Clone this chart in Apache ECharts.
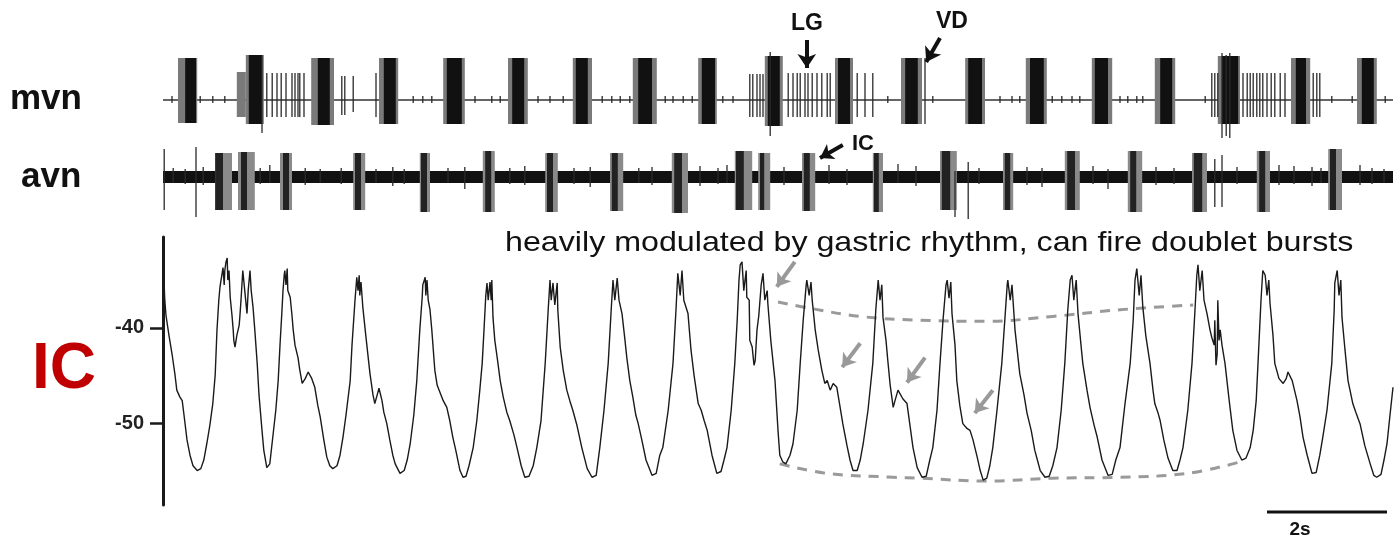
<!DOCTYPE html>
<html>
<head>
<meta charset="utf-8">
<script src="https://cdn.jsdelivr.net/npm/echarts@6/dist/echarts.min.js"></script>
<style>html,body{margin:0;padding:0;background:#fff}#c{width:1400px;height:542px}</style>
</head>
<body>
<div id="c"></div>
<script>
// ---- time axis (s) ----
const timeRange = [0, 20.5];

// ---- mvn (extracellular, arbitrary units) ----
const mvnBaseline = [[0, 0], [20.5, 0]];
// bursts: [outerStart, coreStart, coreEnd, outerEnd, top, bottom]
const mvnBursts = [
  [0.25,0.37,0.55,0.57,42,-23],[1.23,1.23,1.23,1.38,28,-17],[1.38,1.43,1.65,1.68,45,-24],
  [2.47,2.58,2.78,2.85,42,-25],[3.60,3.68,3.88,3.92,42,-24],[4.67,4.73,4.98,5.03,42,-24],
  [5.75,5.82,6.02,6.08,42,-24],[6.83,6.88,7.08,7.15,42,-24],[7.83,7.92,8.15,8.23,42,-24],
  [8.92,8.98,9.20,9.23,42,-24],[10.03,10.08,10.28,10.33,44,-26],[11.20,11.25,11.45,11.50,42,-24],
  [12.30,12.37,12.58,12.65,42,-24],[13.37,13.42,13.65,13.70,42,-24],[14.38,14.45,14.68,14.73,42,-24],
  [15.48,15.53,15.75,15.82,42,-24],[16.53,16.62,16.82,16.87,42,-24],[17.58,17.65,17.92,17.95,44,-24],
  [18.80,18.88,19.05,19.12,42,-24],[19.90,19.98,20.18,20.23,42,-24]
];
// single spikes: [t, top, bottom]
const mvnSpikes = [
  [1.73,27,-17],[1.82,27,-17],[1.90,27,-17],[1.97,27,-17],[2.05,27,-17],[2.15,27,-17],[2.20,27,-17],
  [2.25,27,-17],[2.28,27,-17],[2.35,27,-17],[2.98,24,-15],[3.03,24,-15],[3.17,24,-12],[3.55,27,-17],
  [1.65,45,-33],[10.12,48,-36],[17.65,47,-38],[17.72,45,-36],[17.78,47,-38],[12.70,42,-24],
  [9.78,26,-17],[9.83,26,-17],[9.90,26,-17],[9.95,26,-17],[10.00,26,-17],
  [10.42,27,-17],[10.50,27,-17],[10.57,27,-17],[10.62,27,-17],[10.70,27,-17],[10.75,27,-17],
  [10.82,27,-17],[10.90,27,-17],[10.98,27,-17],[11.07,27,-17],[11.12,27,-17],
  [11.57,27,-17],[11.70,27,-17],[11.83,27,-17],
  [17.48,27,-17],[17.53,27,-17],[17.58,27,-17],[18.00,27,-17],[18.07,27,-17],[18.12,27,-17],
  [18.17,27,-17],[18.23,27,-17],[18.28,27,-17],[18.33,27,-17],[18.40,27,-17],[18.47,27,-17],
  [18.53,27,-17],[18.62,27,-17],[18.70,27,-17],[19.17,27,-17],[19.23,27,-17],[19.28,27,-17],
  [0.15,4,-3],[0.62,4,-3],[0.83,4,-3],[1.03,4,-3],[4.17,4,-3],[4.33,4,-3],[4.48,4,-3],
  [5.20,4,-3],[5.48,4,-3],[5.62,4,-3],[6.25,4,-3],[6.45,4,-3],[6.67,4,-3],[7.32,4,-3],
  [7.48,4,-3],[7.62,4,-3],[7.78,4,-3],[8.37,4,-3],[8.50,4,-3],[8.67,4,-3],[8.82,4,-3],
  [9.33,4,-3],[9.50,4,-3],[12.08,4,-3],[12.83,4,-3],[13.95,4,-3],[14.15,4,-3],[14.28,4,-3],
  [14.82,4,-3],[14.98,4,-3],[15.15,4,-3],[15.28,4,-3],[15.95,4,-3],[16.08,4,-3],[16.23,4,-3],
  [16.33,4,-3],[17.37,4,-3],[19.48,4,-3],[19.82,4,-3],[20.37,4,-3]
];

// ---- avn ----
const avnBaseline = [[0, 0], [20.5, 0]];
const avnBursts = [
  [0.87,0.87,1.00,1.15,24,-33],[1.25,1.30,1.40,1.53,25,-33],[1.95,2.00,2.10,2.15,24,-33],
  [3.17,3.20,3.30,3.37,24,-33],[4.28,4.30,4.40,4.45,24,-35],[5.33,5.37,5.47,5.53,26,-35],
  [6.37,6.40,6.50,6.58,24,-35],[7.45,7.48,7.58,7.67,24,-34],[8.48,8.52,8.65,8.75,24,-36],
  [9.53,9.55,9.68,9.82,26,-33],[9.92,9.95,10.02,10.12,24,-33],[10.65,10.68,10.78,10.87,24,-34],
  [11.83,11.85,11.93,12.00,24,-35],[12.95,12.98,13.12,13.23,26,-33],[14.00,14.03,14.12,14.17,24,-33],
  [15.03,15.07,15.20,15.28,26,-33],[16.08,16.12,16.22,16.32,26,-35],[17.15,17.18,17.32,17.40,24,-35],
  [18.23,18.27,18.37,18.45,26,-35],[19.42,19.45,19.55,19.65,28,-33]
];
const avnSpikes = [
  [0.02,28,-33],[0.55,30,-40],[0.17,9,-6],[0.37,8,-7],[0.67,10,-8],[1.62,9,-7],[1.78,12,-6],
  [2.37,9,-8],[2.62,8,-6],[2.97,9,-7],[3.55,8,-6],[3.83,10,-9],[4.02,8,-7],[4.75,9,-6],
  [5.03,10,-12],[5.78,9,-7],[6.03,11,-8],[6.85,9,-7],[7.12,10,-10],[7.93,9,-6],[8.15,10,-8],
  [8.95,11,-9],[9.25,9,-7],[9.40,12,-6],[10.35,10,-8],[11.10,12,-7],[11.40,8,-8],[12.25,13,-6],
  [12.55,11,-9],[13.20,6,-40],[13.42,15,-42],[13.60,9,-7],[14.40,10,-8],[14.65,9,-10],
  [15.50,11,-7],[15.75,8,-12],[16.55,10,-8],[16.85,9,-7],[17.53,18,-30],[17.65,22,-30],
  [17.90,10,-7],[18.60,12,-8],[18.85,11,-7],[19.15,10,-9],[19.30,9,-6],[19.95,12,-8],
  [20.15,9,-7],[20.35,8,-6]
];

// ---- IC membrane potential (mV) ----
const icTicks = [-40, -50];
const icTrace = [
[0.00,-37.8],[0.01,-34.0],[0.03,-37.1],[0.05,-38.7],[0.10,-40.8],[0.15,-42.7],[0.20,-44.9],[0.23,-46.5],[0.28,-47.2],[0.32,-47.6],[0.35,-49.1],[0.40,-51.7],[0.45,-53.3],[0.50,-54.4],[0.57,-54.9],[0.63,-54.7],[0.68,-53.8],[0.73,-52.1],[0.78,-50.2],[0.83,-47.9],[0.87,-44.9],[0.90,-40.2],[0.93,-37.1],[0.95,-35.7],[0.98,-34.5],[1.00,-33.7],[1.02,-35.5],[1.03,-34.0],[1.05,-33.1],[1.07,-32.7],[1.08,-35.0],[1.10,-34.0],[1.12,-36.8],[1.15,-38.7],[1.17,-40.2],[1.18,-41.3],[1.20,-42.0],[1.23,-40.8],[1.27,-39.7],[1.28,-38.9],[1.30,-37.1],[1.33,-34.0],[1.37,-36.6],[1.40,-38.5],[1.42,-36.1],[1.45,-34.0],[1.47,-36.1],[1.50,-37.8],[1.53,-40.2],[1.57,-43.7],[1.60,-47.0],[1.65,-50.7],[1.68,-52.8],[1.73,-54.6],[1.78,-54.2],[1.83,-51.4],[1.88,-48.6],[1.92,-45.5],[1.95,-41.8],[1.98,-38.5],[2.00,-36.1],[2.02,-34.5],[2.03,-34.0],[2.05,-35.5],[2.07,-33.8],[2.08,-36.1],[2.12,-36.8],[2.15,-38.7],[2.17,-40.2],[2.20,-41.8],[2.25,-43.1],[2.28,-44.4],[2.32,-45.8],[2.37,-45.3],[2.42,-44.6],[2.45,-44.4],[2.48,-45.3],[2.53,-46.2],[2.58,-48.1],[2.62,-49.3],[2.68,-51.7],[2.73,-53.5],[2.78,-54.4],[2.83,-54.7],[2.90,-54.4],[2.95,-53.3],[3.00,-51.4],[3.05,-49.1],[3.12,-45.5],[3.15,-41.8],[3.20,-37.1],[3.22,-35.5],[3.23,-34.7],[3.25,-36.1],[3.27,-34.5],[3.28,-36.6],[3.30,-35.2],[3.33,-37.8],[3.38,-40.8],[3.45,-44.8],[3.50,-47.0],[3.53,-47.9],[3.57,-47.0],[3.60,-46.3],[3.62,-46.2],[3.65,-47.6],[3.68,-48.8],[3.73,-50.0],[3.78,-51.7],[3.83,-53.3],[3.87,-54.2],[3.95,-55.2],[4.02,-54.9],[4.07,-53.8],[4.12,-52.1],[4.18,-49.1],[4.23,-45.5],[4.28,-40.2],[4.32,-36.8],[4.33,-35.5],[4.37,-34.7],[4.38,-36.6],[4.40,-35.0],[4.42,-37.1],[4.45,-38.1],[4.48,-40.2],[4.53,-44.4],[4.57,-46.0],[4.62,-46.8],[4.67,-47.6],[4.70,-47.4],[4.73,-48.3],[4.78,-49.7],[4.83,-51.4],[4.88,-52.8],[4.95,-54.9],[5.00,-55.6],[5.05,-55.5],[5.10,-54.4],[5.17,-52.5],[5.23,-49.7],[5.28,-46.5],[5.32,-43.7],[5.35,-40.2],[5.38,-36.6],[5.40,-35.3],[5.42,-37.1],[5.45,-35.2],[5.47,-37.1],[5.48,-35.0],[5.50,-38.9],[5.53,-41.3],[5.57,-43.1],[5.62,-45.5],[5.67,-47.2],[5.73,-48.8],[5.78,-49.7],[5.85,-51.2],[5.90,-52.5],[5.97,-54.4],[6.03,-55.6],[6.10,-55.5],[6.17,-54.4],[6.23,-52.5],[6.30,-49.7],[6.37,-43.7],[6.42,-38.1],[6.45,-35.0],[6.47,-37.1],[6.50,-35.3],[6.53,-37.6],[6.57,-35.3],[6.58,-38.1],[6.62,-42.0],[6.67,-44.4],[6.73,-46.5],[6.78,-47.6],[6.83,-48.6],[6.90,-50.2],[6.98,-52.5],[7.07,-54.7],[7.15,-55.6],[7.22,-55.4],[7.28,-52.5],[7.35,-48.6],[7.42,-43.7],[7.47,-38.1],[7.50,-35.0],[7.53,-37.1],[7.57,-34.8],[7.60,-37.1],[7.65,-38.5],[7.70,-41.3],[7.73,-43.1],[7.78,-45.5],[7.83,-47.2],[7.88,-49.1],[7.92,-50.0],[7.98,-51.7],[8.05,-53.8],[8.15,-55.4],[8.22,-55.2],[8.28,-53.3],[8.33,-52.5],[8.42,-48.6],[8.50,-43.7],[8.55,-38.1],[8.58,-34.3],[8.62,-36.6],[8.65,-34.0],[8.68,-37.1],[8.75,-38.5],[8.80,-42.3],[8.85,-44.9],[8.92,-47.9],[8.97,-48.6],[9.02,-49.7],[9.07,-50.7],[9.15,-53.3],[9.23,-55.2],[9.30,-55.0],[9.35,-53.8],[9.40,-52.5],[9.47,-48.6],[9.53,-43.7],[9.57,-39.2],[9.60,-35.0],[9.62,-33.4],[9.65,-33.1],[9.68,-36.1],[9.72,-34.0],[9.73,-36.8],[9.77,-37.1],[9.78,-41.3],[9.82,-42.0],[9.85,-43.9],[9.87,-43.4],[9.90,-40.2],[9.93,-38.7],[9.97,-35.5],[10.00,-34.3],[10.03,-37.1],[10.07,-36.1],[10.08,-37.4],[10.13,-41.3],[10.20,-45.5],[10.25,-50.7],[10.28,-53.3],[10.33,-54.0],[10.38,-54.2],[10.45,-53.3],[10.50,-52.1],[10.57,-48.6],[10.62,-43.7],[10.67,-39.2],[10.72,-35.5],[10.73,-35.0],[10.77,-36.6],[10.80,-35.2],[10.82,-37.1],[10.87,-40.2],[10.92,-42.3],[10.98,-44.4],[11.03,-45.8],[11.07,-45.5],[11.12,-46.5],[11.17,-45.8],[11.23,-46.2],[11.28,-48.1],[11.33,-50.0],[11.40,-52.3],[11.45,-53.8],[11.50,-54.9],[11.57,-54.9],[11.62,-53.8],[11.67,-52.1],[11.75,-48.6],[11.83,-43.7],[11.88,-38.1],[11.92,-35.0],[11.95,-37.1],[11.98,-35.5],[12.00,-38.9],[12.05,-41.3],[12.08,-43.4],[12.12,-46.0],[12.17,-48.3],[12.20,-47.6],[12.25,-46.5],[12.28,-46.5],[12.33,-47.4],[12.40,-47.9],[12.45,-50.2],[12.50,-52.5],[12.57,-54.6],[12.65,-55.6],[12.72,-55.5],[12.78,-53.8],[12.83,-52.5],[12.90,-48.6],[12.95,-43.7],[13.00,-39.2],[13.05,-35.5],[13.07,-35.0],[13.10,-36.9],[13.13,-35.2],[13.15,-38.5],[13.20,-41.8],[13.23,-45.5],[13.28,-48.1],[13.33,-50.0],[13.40,-50.5],[13.45,-50.7],[13.50,-51.7],[13.57,-53.5],[13.62,-54.9],[13.67,-55.9],[13.73,-55.7],[13.78,-54.4],[13.83,-52.5],[13.90,-48.6],[13.98,-43.7],[14.03,-39.2],[14.07,-35.5],[14.08,-35.0],[14.12,-37.1],[14.15,-35.5],[14.20,-40.2],[14.28,-44.8],[14.35,-47.0],[14.40,-48.9],[14.47,-50.7],[14.53,-52.8],[14.62,-54.9],[14.70,-55.6],[14.77,-55.5],[14.83,-54.4],[14.90,-52.5],[14.97,-48.6],[15.03,-43.7],[15.08,-38.1],[15.12,-35.0],[15.15,-34.5],[15.18,-37.1],[15.22,-35.0],[15.25,-38.5],[15.30,-41.8],[15.33,-43.7],[15.40,-46.5],[15.45,-48.3],[15.52,-50.2],[15.57,-51.4],[15.65,-53.8],[15.75,-55.4],[15.82,-55.3],[15.88,-53.8],[15.95,-52.5],[16.03,-48.1],[16.12,-43.7],[16.17,-39.2],[16.20,-35.0],[16.23,-33.8],[16.27,-36.6],[16.30,-34.5],[16.33,-37.8],[16.38,-40.8],[16.45,-43.7],[16.50,-46.5],[16.53,-47.9],[16.58,-48.8],[16.62,-49.7],[16.68,-51.7],[16.75,-53.6],[16.83,-54.9],[16.90,-54.9],[16.95,-53.8],[17.00,-52.5],[17.08,-48.6],[17.15,-43.7],[17.20,-38.1],[17.23,-34.5],[17.25,-33.4],[17.28,-36.1],[17.32,-34.0],[17.35,-37.1],[17.40,-38.5],[17.45,-40.2],[17.48,-41.0],[17.52,-41.8],[17.53,-39.2],[17.55,-43.9],[17.57,-42.7],[17.58,-37.1],[17.60,-41.3],[17.62,-40.2],[17.65,-41.8],[17.70,-43.7],[17.77,-47.6],[17.83,-50.7],[17.90,-52.8],[17.98,-53.8],[18.05,-53.6],[18.12,-52.5],[18.17,-50.7],[18.22,-47.6],[18.25,-43.7],[18.30,-37.1],[18.33,-34.0],[18.37,-34.5],[18.40,-36.6],[18.43,-35.0],[18.45,-37.4],[18.50,-40.8],[18.53,-43.7],[18.60,-45.3],[18.67,-45.8],[18.72,-45.3],[18.75,-44.6],[18.78,-44.4],[18.82,-45.5],[18.90,-47.6],[18.95,-49.3],[19.00,-51.4],[19.07,-53.3],[19.15,-55.2],[19.22,-55.1],[19.28,-53.3],[19.33,-51.4],[19.40,-48.6],[19.48,-43.7],[19.52,-38.1],[19.53,-35.3],[19.57,-34.0],[19.60,-36.6],[19.63,-35.0],[19.65,-38.9],[19.70,-42.3],[19.75,-45.5],[19.80,-47.0],[19.83,-47.9],[19.88,-48.8],[19.95,-50.0],[20.03,-52.3],[20.12,-54.2],[20.18,-55.4],[20.23,-55.6],[20.30,-55.3],[20.35,-53.8],[20.40,-52.1],[20.45,-49.1],[20.50,-46.2]
];
// envelope guides (dashed)
const upperEnvelope = [[10.25,-37.3],[10.83,-38.0],[11.62,-38.8],[12.62,-39.2],[13.73,-39.3],[14.83,-38.8],[15.95,-38.1],[17.17,-37.6]];
const lowerEnvelope = [[10.28,-54.2],[11.07,-55.2],[12.17,-55.6],[12.62,-55.7],[13.73,-56.0],[14.83,-55.7],[15.95,-55.6],[17.07,-55.2],[17.95,-54.0]];
// gray arrows [from, to]
const grayArrows = [
  [[10.53,-33.1],[10.23,-35.7]],
  [[11.62,-41.6],[11.32,-44.1]],
  [[12.70,-43.1],[12.40,-45.7]],
  [[13.83,-46.5],[13.53,-48.9]]
];
// annotation arrows
const lgArrow = [[10.73,60],[10.73,32]];
const vdArrow = [[12.95,62],[12.72,38]];
const icArrow = [[11.33,32],[10.95,19]];
// scale bar
const scaleBar = [[18.40,30],[20.40,30]];

const FONT = 'Liberation Sans';
const chart = echarts.init(document.getElementById('c'), null, {renderer:'canvas'});

function spikeRender(color, w){
  return function(params, api){
    const a = api.coord([api.value(0), api.value(1)]);
    const b = api.coord([api.value(0), api.value(2)]);
    return {type:'line', shape:{x1:a[0], y1:a[1], x2:b[0], y2:b[1]}, style:{stroke:color, lineWidth:w}};
  };
}
function burstRender(outer, inner){
  return function(params, api){
    const a = api.coord([api.value(0), api.value(4)]);
    const b = api.coord([api.value(3), api.value(5)]);
    const c = api.coord([api.value(1), api.value(4)]);
    const d = api.coord([api.value(2), api.value(5)]);
    const ch = [{type:'rect', shape:{x:a[0], y:a[1], width:b[0]-a[0], height:b[1]-a[1]}, style:{fill:outer}}];
    if (d[0]-c[0] > 0.5) ch.push({type:'rect', shape:{x:c[0], y:c[1], width:d[0]-c[0], height:d[1]-c[1]}, style:{fill:inner}});
    return {type:'group', children:ch};
  };
}
function arrowLine(pair, color, width, size){
  return [{coord:pair[0], symbol:'none'}, {coord:pair[1], symbol:'arrow', symbolSize:size, lineStyle:{color:color, width:width}}];
}

const L = 163, R = 7;
const xAx = (i)=>({gridIndex:i, type:'value', min:timeRange[0], max:timeRange[1], show:false});

chart.setOption({
  animation:false,
  backgroundColor:'#fff',
  textStyle:{fontFamily:FONT},
  grid:[
    {left:L, right:R, top:0, height:130},
    {left:L, right:R, top:135, height:85},
    {left:L, right:R, top:237, height:268},
    {left:L, right:R, top:500, height:42}
  ],
  xAxis:[xAx(0), xAx(1), xAx(2), xAx(3)],
  yAxis:[
    {gridIndex:0, type:'value', min:-30, max:100, show:false},
    {gridIndex:1, type:'value', min:-43, max:42, show:false},
    {gridIndex:2, type:'value', min:-58.5, max:-30.5, splitLine:{show:false},
     axisLine:{show:true, lineStyle:{color:'#1a1a1a', width:3}},
     axisTick:{show:true, length:13, customValues:icTicks, lineStyle:{color:'#1a1a1a', width:2.5}},
     axisLabel:{show:true, customValues:icTicks, margin:19, color:'#222', fontSize:20, fontWeight:'bold', fontFamily:FONT}},
    {gridIndex:3, type:'value', min:0, max:42, show:false}
  ],
  graphic:[
    {type:'text', x:10, y:99, style:{text:'mvn', fontSize:35, fontWeight:'bold', fontFamily:FONT, fill:'#111', textVerticalAlign:'middle'}},
    {type:'text', x:21, y:177, style:{text:'avn', fontSize:35, fontWeight:'bold', fontFamily:FONT, fill:'#111', textVerticalAlign:'middle'}},
    {type:'text', x:32, y:370, style:{text:'IC', fontSize:64, fontWeight:'bold', fontFamily:FONT, fill:'#c00000', textVerticalAlign:'middle'}},
    {type:'text', x:505, y:243, scaleX:1.15, style:{text:'heavily modulated by gastric rhythm, can fire doublet bursts', fontSize:28, fontFamily:FONT, fill:'#111', textVerticalAlign:'middle'}},
    {type:'text', x:807, y:24, style:{text:'LG', fontSize:23, fontWeight:'bold', fontFamily:FONT, fill:'#111', textAlign:'center', textVerticalAlign:'middle'}},
    {type:'text', x:952, y:22, style:{text:'VD', fontSize:23, fontWeight:'bold', fontFamily:FONT, fill:'#111', textAlign:'center', textVerticalAlign:'middle'}},
    {type:'text', x:852, y:144, style:{text:'IC', fontSize:22, fontWeight:'bold', fontFamily:FONT, fill:'#111', textVerticalAlign:'middle'}},
    {type:'text', x:1300, y:530, style:{text:'2s', fontSize:19, fontWeight:'bold', fontFamily:FONT, fill:'#111', textAlign:'center', textVerticalAlign:'middle'}}
  ],
  series:[
    {type:'line', xAxisIndex:0, yAxisIndex:0, data:mvnBaseline, symbol:'none', lineStyle:{color:'#333', width:1.5}, z:1,
     markLine:{silent:true, symbol:['none','arrow'], label:{show:false}, lineStyle:{type:'solid', color:'#111', width:4},
       data:[arrowLine(lgArrow,'#111',4,14), arrowLine(vdArrow,'#111',4,14)]}},
    {type:'custom', xAxisIndex:0, yAxisIndex:0, data:mvnBursts, renderItem:burstRender('#7a7a7a','#111'), encode:{x:[0,3], y:[4,5]}, z:2},
    {type:'custom', xAxisIndex:0, yAxisIndex:0, data:mvnSpikes, renderItem:spikeRender('#2a2a2a',1.3), encode:{x:0, y:[1,2]}, z:3},

    {type:'line', xAxisIndex:1, yAxisIndex:1, data:avnBaseline, symbol:'none', lineStyle:{color:'#111', width:12}, z:1,
     markLine:{silent:true, symbol:['none','arrow'], label:{show:false}, lineStyle:{type:'solid', color:'#111', width:4},
       data:[arrowLine(icArrow,'#111',4,13)]}},
    {type:'custom', xAxisIndex:1, yAxisIndex:1, data:avnBursts, renderItem:burstRender('#8a8a8a','#222'), encode:{x:[0,3], y:[4,5]}, z:2},
    {type:'custom', xAxisIndex:1, yAxisIndex:1, data:avnSpikes, renderItem:spikeRender('#2a2a2a',1.3), encode:{x:0, y:[1,2]}, z:3},

    {type:'line', xAxisIndex:2, yAxisIndex:2, data:upperEnvelope, symbol:'none', smooth:0.4, lineStyle:{color:'#9a9a9a', width:3, type:[10,8]}, z:1},
    {type:'line', xAxisIndex:2, yAxisIndex:2, data:lowerEnvelope, symbol:'none', smooth:0.4, lineStyle:{color:'#9a9a9a', width:3, type:[10,8]}, z:1},
    {type:'line', xAxisIndex:2, yAxisIndex:2, data:icTrace, symbol:'none', lineStyle:{color:'#1a1a1a', width:1.4}, z:3,
     markLine:{silent:true, symbol:['none','arrow'], label:{show:false}, lineStyle:{type:'solid', color:'#999', width:4},
       data:grayArrows.map(p=>arrowLine(p,'#999',4,13))}},

    {type:'line', xAxisIndex:3, yAxisIndex:3, data:scaleBar, symbol:'none', lineStyle:{color:'#111', width:3}}
  ]
});
</script>
</body>
</html>
